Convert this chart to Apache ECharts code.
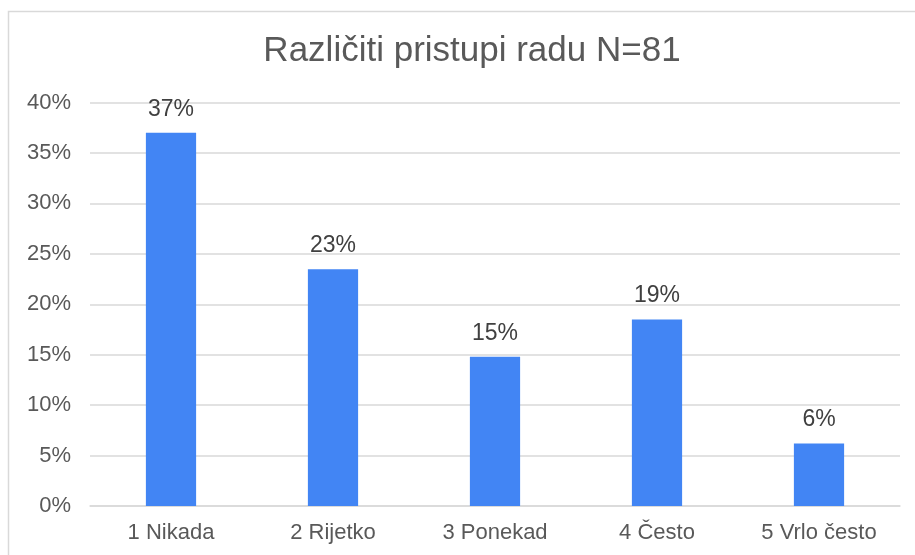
<!DOCTYPE html>
<html><head><meta charset="utf-8">
<script src="https://cdn.jsdelivr.net/npm/echarts@6/dist/echarts.min.js"></script>
<style>html,body{margin:0;padding:0;background:#fff}#c{width:915px;height:555px}</style>
</head><body><div id="c"></div>
<script>
const titleText = 'Različiti pristupi radu N=81';
const categories = ['1 Nikada', '2 Rijetko', '3 Ponekad', '4 Često', '5 Vrlo često'];
const values = [0.370, 0.2346, 0.148, 0.185, 0.062];
const font = '"Liberation Sans", Arial, sans-serif';
const chart = echarts.init(document.getElementById('c'), null, {renderer: 'canvas'});
chart.setOption({
  animation: false,
  backgroundColor: '#fff',
  graphic: [{type: 'rect', shape: {x: 8.5, y: 11.5, width: 940, height: 600}, style: {fill: 'none', stroke: '#d9d9d9', lineWidth: 1.5}, silent: true}],
  title: {text: titleText, left: 467, textAlign: 'center', top: 29, textStyle: {fontFamily: font, fontSize: 35, fontWeight: 'normal', color: '#595959'}},
  grid: {left: 90, right: 15, top: 102.5, bottom: 49},
  xAxis: {type: 'category', data: categories,
    axisLine: {show: true, lineStyle: {color: '#d9d9d9', width: 1.5}}, axisTick: {show: false},
    axisLabel: {fontFamily: font, fontSize: 22, color: '#595959', margin: 16}},
  yAxis: {type: 'value', min: 0, max: 0.4, interval: 0.05,
    axisLine: {show: false}, axisTick: {show: false},
    splitLine: {lineStyle: {color: '#d9d9d9', width: 1.5}},
    axisLabel: {fontFamily: font, fontSize: 22, color: '#595959', margin: 19, formatter: v => Math.round(v * 100) + '%'}},
  series: [{type: 'bar', data: values, barWidth: '31%', itemStyle: {color: '#4285f4'},
    label: {show: true, position: 'top', distance: 12, fontFamily: font, fontSize: 23, color: '#404040',
      formatter: p => Math.round(p.value * 100) + '%'}}]
});
</script></body></html>
